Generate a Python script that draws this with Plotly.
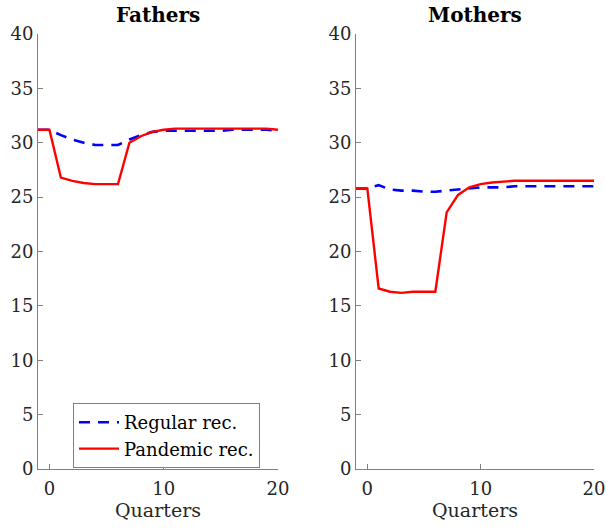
import plotly.graph_objects as go

quarters = list(range(-1, 21))

fathers_regular = [31.2, 31.2, 30.7, 30.3, 30.0, 29.8, 29.8, 29.8, 30.3, 30.7, 31.0, 31.1,
                   31.1, 31.1, 31.1, 31.1, 31.1, 31.2, 31.2, 31.2, 31.2, 31.1]
fathers_pandemic = [31.2, 31.2, 26.8, 26.5, 26.3, 26.2, 26.2, 26.2, 30.0, 30.6, 31.0, 31.2,
                    31.3, 31.3, 31.3, 31.3, 31.3, 31.3, 31.3, 31.3, 31.3, 31.2]
mothers_regular = [25.8, 25.8, 26.1, 25.7, 25.6, 25.6, 25.5, 25.5, 25.6, 25.7, 25.8, 25.9,
                   25.9, 25.9, 26.0, 26.0, 26.0, 26.0, 26.0, 26.0, 26.0, 26.0]
mothers_pandemic = [25.8, 25.8, 16.6, 16.3, 16.2, 16.3, 16.3, 16.3, 23.6, 25.2, 25.9, 26.2,
                    26.35, 26.45, 26.5, 26.5, 26.5, 26.55, 26.55, 26.5, 26.5, 26.5]

panel_titles = ["Fathers", "Mothers"]
x_tickvals = [0, 10, 20]
y_tickvals = [0, 5, 10, 15, 20, 25, 30, 35, 40]
x_title = "Quarters"

FONT = "DejaVu Serif"
BLUE = "#0000FF"
RED = "#FF0000"
AXIS = "#808080"
TXT = "#262626"
DASH = "11px,8px"

fig = go.Figure()
fig.add_trace(go.Scatter(x=quarters, y=fathers_regular, mode="lines", name="Regular rec.",
                         line=dict(color=BLUE, width=2.6, dash=DASH), xaxis="x", yaxis="y"))
fig.add_trace(go.Scatter(x=quarters, y=fathers_pandemic, mode="lines", name="Pandemic rec.",
                         line=dict(color=RED, width=2.4), xaxis="x", yaxis="y"))
fig.add_trace(go.Scatter(x=quarters, y=mothers_regular, mode="lines", showlegend=False,
                         line=dict(color=BLUE, width=2.6, dash=DASH), xaxis="x2", yaxis="y2"))
fig.add_trace(go.Scatter(x=quarters, y=mothers_pandemic, mode="lines", showlegend=False,
                         line=dict(color=RED, width=2.4), xaxis="x2", yaxis="y2"))

W, H = 606, 529
xd1 = [38 / W, 278 / W]
xd2 = [356 / W, 594 / W]
yd = [1 - 469 / H, 1 - 34 / H]

xcommon = dict(range=[-1, 20], tickvals=x_tickvals, ticks="inside", ticklen=5,
               showline=True, linecolor=AXIS, linewidth=1, tickcolor=AXIS,
               showgrid=False, zeroline=False, automargin=False, ticklabelstandoff=3,
               tickfont=dict(family=FONT, size=18, color=TXT),
               title=dict(text=x_title, font=dict(family=FONT, size=19, color=TXT), standoff=4))
ycommon = dict(range=[0, 40], tickvals=y_tickvals, ticks="inside", ticklen=5,
               showline=True, linecolor=AXIS, linewidth=1, tickcolor=AXIS,
               showgrid=False, zeroline=False, domain=yd, automargin=False,
               tickfont=dict(family=FONT, size=18, color=TXT))

fig.update_layout(
    width=W, height=H,
    margin=dict(l=0, r=0, t=0, b=0, autoexpand=False),
    paper_bgcolor="white", plot_bgcolor="white",
    xaxis=dict(domain=xd1, anchor="y", **xcommon),
    yaxis=dict(anchor="x", **ycommon),
    xaxis2=dict(domain=xd2, anchor="y2", **xcommon),
    yaxis2=dict(anchor="x2", **ycommon),
    showlegend=True,
    legend=dict(x=73 / W, y=1 - 403 / H, xanchor="left", yanchor="top",
                bgcolor="white", bordercolor=AXIS, borderwidth=1,
                font=dict(family=FONT, size=18, color="black"),
                tracegroupgap=0, itemwidth=40),
    annotations=[
        dict(text="<b>%s</b>" % panel_titles[0], x=(xd1[0] + xd1[1]) / 2, y=1 - 15 / H,
             xref="paper", yref="paper", showarrow=False, xanchor="center", yanchor="middle",
             font=dict(family=FONT, size=20, color="black")),
        dict(text="<b>%s</b>" % panel_titles[1], x=(xd2[0] + xd2[1]) / 2, y=1 - 15 / H,
             xref="paper", yref="paper", showarrow=False, xanchor="center", yanchor="middle",
             font=dict(family=FONT, size=20, color="black")),
    ],
)

fig.write_html("out.html", config={"displayModeBar": False},
               post_script="document.body.style.margin='0';document.body.style.padding='0';")
